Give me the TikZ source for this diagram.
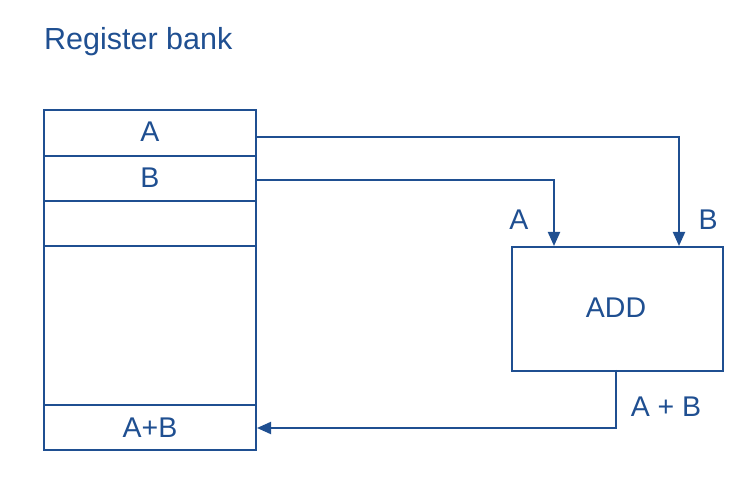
\documentclass[tikz,border=0pt]{standalone}
\usepackage{fontspec}
\setmainfont{Liberation Sans}
\usetikzlibrary{arrows.meta}
\definecolor{bl}{RGB}{31,79,145}
\begin{document}
\begin{tikzpicture}[x=1pt,y=-1pt,
  every node/.style={text=bl,font=\fontsize{28.5}{32}\selectfont,inner sep=0pt},
  ln/.style={draw=bl,line width=2pt},
  arr/.style={ln,-{Triangle[length=14pt,width=12pt]}}]
\useasboundingbox (0,0) rectangle (745,486);
% register bank
\node[anchor=base west,font=\fontsize{30.5}{34}\selectfont] (title) at (44,50) {Register bank};
\draw[ln] (44,110) rectangle (256,450);
\draw[ln] (44,156) -- (256,156);
\draw[ln] (44,201) -- (256,201);
\draw[ln] (44,246) -- (256,246);
\draw[ln] (44,405) -- (256,405);
\coordinate (bank) at (256,110);
\node (rA) at (150,132) {A};
\node (rB) at (150,178) {B};
\node (rS) at (150,428) {A+B};
% adder
\node[ln,minimum width=211pt,minimum height=124pt,anchor=north west] (add) at (511,246) {};
\node (addtxt) at (616,308) {ADD};
\node (lA) at (519,220) {A};
\node (lB) at (708,220) {B};
\node (lS) at (666,407) {A + B};
% connectors
\coordinate (oA) at (256,137);
\coordinate (oB) at (256,180);
\coordinate (iB) at (679,246);
\coordinate (iA) at (554,246);
\coordinate (out) at (616,370);
\coordinate (sum) at (257,428);
\draw[arr] (oA) -| (iB);
\draw[arr] (oB) -| (iA);
\draw[arr] (out) |- (sum);
\end{tikzpicture}
\end{document}
